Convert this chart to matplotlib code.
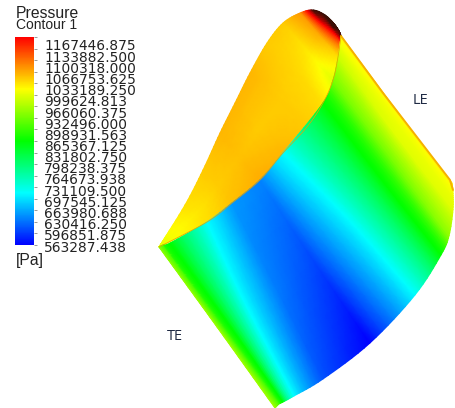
import matplotlib
matplotlib.use("Agg")
import matplotlib.pyplot as plt
from matplotlib.colors import LinearSegmentedColormap, Normalize
from matplotlib.cm import ScalarMappable
import numpy as np

W, H = 455, 408

levels = [1167446.875, 1133882.500, 1100318.000, 1066753.625, 1033189.250, 999624.813,
          966060.375, 932496.000, 898931.563, 865367.125, 831802.750, 798238.375,
          764673.938, 731109.500, 697545.125, 663980.688, 630416.250, 596851.875, 563287.438]
level_labels = ["%.3f" % v for v in levels]

# edge shared by the two faces of the blade, TE to tip
shared_x = [159, 207, 232, 260, 283, 307, 323, 333, 338, 341]
shared_y = [247, 222, 203, 180, 153, 127, 103, 80, 57, 36]

# front face, one column per chord station (TE to LE): top, middle, bottom of the span
front_x = [[159, 163, 170, 207, 232, 260, 283, 323, 333, 338, 340, 341],
           [217, 221, 227, 245, 278, 314, 349, 382, 391, 395, 396, 396],
           [275, 279, 283, 294, 323, 370, 415, 441, 449, 453, 453, 452]]
front_y = [[247, 245, 243, 222, 203, 180, 153, 103, 80, 57, 44, 36],
           [327, 325, 322, 303, 291, 261, 220, 180, 158, 134, 116, 110],
           [408, 404, 402, 396, 379, 343, 295, 255, 236, 210, 192, 183]]
front_p = [[949950, 913700, 865367, 714327, 653911, 641828, 714327, 865367, 937866, 986199, 1010365, 1022448],
           [962033, 913700, 865367, 714327, 635786, 605578, 714327, 865367, 937866, 998282, 1010365, 1022448],
           [962033, 913700, 865367, 714327, 611620, 563287, 714327, 865367, 949950, 998282, 1010365, 1022448]]

# back face, left outline to the shared edge
back_x = [[159, 185, 203, 220, 235, 250, 267, 283, 300, 313, 325, 335, 341],
          [159, 196, 219, 240, 259, 279, 295, 308, 319, 327, 333, 338, 341],
          [159, 207, 232, 260, 283, 307, 323, 333, 338, 340, 341, 341, 341]]
back_y = [[247, 205, 170, 133, 103, 73, 43, 23, 13, 10, 15, 25, 36],
          [247, 214, 186, 157, 128, 100, 73, 52, 35, 27, 27, 30, 36],
          [247, 222, 203, 180, 153, 127, 103, 80, 57, 44, 40, 37, 36]]
back_p = [[1004323, 1034532, 1046615, 1058698, 1058698, 1058698, 1046615, 1046615, 1076823, 1250000, 1250000, 1250000, 1250000],
          [1004323, 1028490, 1046615, 1052657, 1046615, 1046615, 1040574, 1028490, 1064740, 1170000, 1250000, 1250000, 1250000],
          [1004323, 1034532, 1052657, 1064740, 1058698, 1046615, 1034532, 998282, 1034532, 1107031, 1160000, 1220000, 1250000]]

le_edge_x = [341, 383, 450, 453]
le_edge_y = [36, 93, 180, 190]

vmin, vmax, vtop = min(levels), max(levels), 1250000
red_at = (vmax - vmin) / (vtop - vmin)
cmap = LinearSegmentedColormap.from_list("fluent", [(0, "#0000ff"), (red_at * 0.25, "#00ffff"),
                                                    (red_at * 0.5, "#00ff00"), (red_at * 0.75, "#ffff00"),
                                                    (red_at, "#ff0000"), (1, "#3a0f05")], N=512)
norm = Normalize(vmin, vtop)

plt.rcParams["font.family"] = ["Liberation Sans", "DejaVu Sans"]
fig = plt.figure(figsize=(W / 100, H / 100), dpi=100)


def px_axes(x0, y0, x1, y1):
    return fig.add_axes([x0 / W, 1 - y1 / H, (x1 - x0) / W, (y1 - y0) / H])


def spline_row(a, n=8):
    # catmull-rom through the read points, only to round the outlines
    a = np.asarray(a, dtype=float)
    p = np.concatenate([[2 * a[0] - a[1]], a, [2 * a[-1] - a[-2]]])
    out = []
    for i in range(1, len(p) - 2):
        for t in np.arange(n) / n:
            out.append(0.5 * (2 * p[i] + (p[i + 1] - p[i - 1]) * t
                              + (2 * p[i - 1] - 5 * p[i] + 4 * p[i + 1] - p[i + 2]) * t ** 2
                              + (3 * p[i] - p[i - 1] - 3 * p[i + 1] + p[i + 2]) * t ** 3))
    out.append(a[-1])
    return np.array(out)


def fine(a, smooth, n=8):
    # refine a grid along the stations then across the span
    a = np.asarray(a, dtype=float)
    if smooth:
        rows = np.array([spline_row(r, n) for r in a])
        return np.array([spline_row(c, n) for c in rows.T]).T
    s = np.arange(a.shape[1])
    s2 = np.linspace(0, a.shape[1] - 1, (a.shape[1] - 1) * n + 1)
    rows = np.array([np.interp(s2, s, r) for r in a])
    r = np.arange(a.shape[0])
    r2 = np.linspace(0, a.shape[0] - 1, (a.shape[0] - 1) * n + 1)
    return np.array([np.interp(r2, r, c) for c in rows.T]).T


ax = px_axes(0, 0, W, H)
ax.set_xlim(0, W)
ax.set_ylim(H, 0)
ax.axis("off")

ax.pcolormesh(fine(back_x, True), fine(back_y, True), fine(back_p, False), shading="gouraud", cmap=cmap, norm=norm)
ax.pcolormesh(fine(front_x, True), fine(front_y, True), fine(front_p, False), shading="gouraud", cmap=cmap, norm=norm)
ax.plot(spline_row(shared_x), spline_row(shared_y), color="#e8a000", lw=0.5)
ax.plot(le_edge_x, le_edge_y, color="#f5b000", lw=1.4, solid_capstyle="round")

ax.text(16, 13, "Pressure", fontsize=11.3, color="#222222", va="center")
ax.text(16, 25, "Contour 1", fontsize=10, color="#222222", va="center")
ax.text(16, 260, "[Pa]", fontsize=11.3, color="#222222", va="center")
ax.text(413, 101, "LE", fontsize=10.5, color="#1f2a44", family="Open Sans", va="center")
ax.text(167, 337, "TE", fontsize=10.5, color="#1f2a44", family="Open Sans", va="center")

cax = px_axes(15, 37, 34, 245)
cbar = fig.colorbar(ScalarMappable(norm=norm, cmap=cmap), cax=cax)
cbar.ax.set_ylim(vmin, vmax)
cbar.outline.set_visible(False)
cbar.set_ticks(levels, labels=[])
cbar.ax.tick_params(length=2, width=0.6, color="#888888")

# labels sit on their own scale, the list is shifted against the bar in the original
lax = px_axes(36, 45, 44, 246)
lax.set_ylim(vmin, vmax)
lax.set_xticks([])
lax.yaxis.tick_right()
lax.set_yticks(levels, labels=level_labels, family="DejaVu Sans")
lax.tick_params(axis="y", length=0, pad=0, labelsize=9.9, labelcolor="#222222")
lax.patch.set_visible(False)
for s in lax.spines.values():
    s.set_visible(False)

fig.savefig("out.png", dpi=100)
